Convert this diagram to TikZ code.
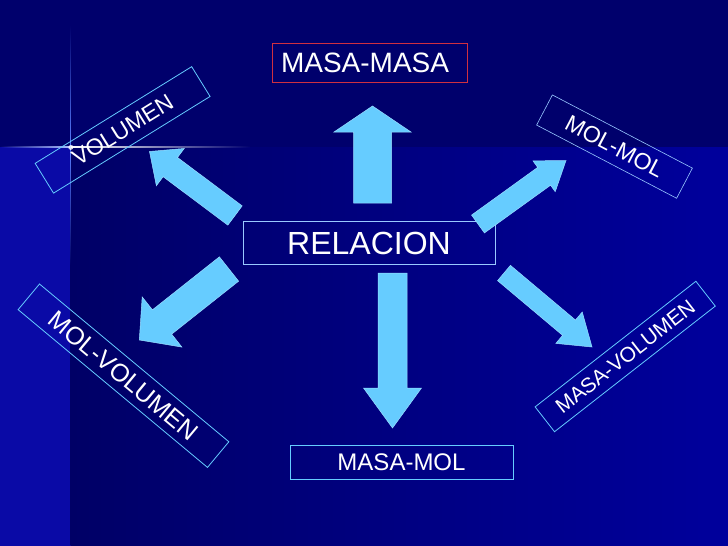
\documentclass[tikz,border=0pt]{standalone}
\usepackage{fontspec}
\setmainfont{Liberation Sans}
\usetikzlibrary{calc,fadings}
\definecolor{bgtop}{HTML}{00006C}
\definecolor{bgleft}{HTML}{0A0AA6}
\definecolor{bgmid}{HTML}{000066}
\definecolor{bgright}{HTML}{00009C}
\definecolor{arrowc}{HTML}{66CCFF}
\definecolor{arrowedge}{HTML}{99DDFF}
\definecolor{boxline}{HTML}{66CCFF}
\definecolor{boxline2}{HTML}{99C8FF}
\definecolor{redline}{HTML}{D03040}
\definecolor{flareblue}{HTML}{5A80FF}
\tikzfading[name=fr, left color=transparent!0, right color=transparent!100]
\tikzfading[name=fl, left color=transparent!100, right color=transparent!0]
\tikzfading[name=fu, top color=transparent!100, bottom color=transparent!0]
\tikzfading[name=fdn, top color=transparent!0, bottom color=transparent!100]
\newcommand{\blockarr}[5]{%
  \coordinate (hb) at ($(#2)!#5!(#1)$);
  \filldraw[blockarrow] ($(#1)!#3!90:(#2)$) -- ($(hb)!#3!90:(#2)$) -- ($(hb)!#4!90:(#2)$) -- (#2)
    -- ($(hb)!#4!-90:(#2)$) -- ($(hb)!#3!-90:(#2)$) -- ($(#1)!#3!-90:(#2)$) -- cycle;
}
\begin{document}
\begin{tikzpicture}[x=1pt,y=-1pt,
  blockarrow/.style={fill=arrowc, draw=arrowedge, line width=0.5pt, line join=miter},
  tagbox/.style={draw=boxline, line width=0.8pt, inner sep=0pt, text=white}]
\useasboundingbox (0,0) rectangle (728,546);
% background
\fill[bgtop] (0,0) rectangle (728,147);
\fill[bgleft] (0,147) rectangle (70.5,546);
\shade[left color=bgmid, right color=bgright] (70.5,147) rectangle (728,546);
% lens flare
\fill[white, path fading=fr] (70,146.4) rectangle (250,147.6);
\fill[flareblue!50!white, path fading=fl] (0,146.4) rectangle (70,147.6);
\fill[flareblue, path fading=fu] (69.9,25) rectangle (71.1,147);
\fill[flareblue, path fading=fdn] (69.9,147) rectangle (71.1,265);
\fill[white, opacity=0.8, path fading=circle with fuzzy edge 20 percent] (70.5,147) circle (3);
% boxes
\node[draw=redline, line width=0.8pt, inner xsep=9pt, inner ysep=0pt, minimum height=39pt,
  text width=177pt, align=left, text=white] (mm) at (369.5,62.5)
  {\fontsize{28}{30}\selectfont MASA-MASA};
\node[tagbox, draw=boxline2, minimum width=252pt, minimum height=43pt] (rel) at (369,243)
  {\fontsize{32}{34}\selectfont RELACION};
\node[tagbox, minimum width=223pt, minimum height=34pt] (mmol) at (401.5,462)
  {\fontsize{24}{26}\selectfont MASA-MOL};
\node[tagbox, minimum width=184pt, minimum height=35pt, rotate=31.7] (vol) at (122.6,129.9)
  {\fontsize{23}{25}\selectfont VOLUMEN};
\node[tagbox, draw=boxline2, line width=0.6pt, minimum width=158pt, minimum height=34pt, rotate=-27.6] (molmol) at (614.5,146.6)
  {\fontsize{23}{25}\selectfont MOL-MOL};
\node[tagbox, minimum width=204pt, minimum height=31.5pt, rotate=38] (mvol) at (625.2,356.5)
  {\fontsize{21}{23}\selectfont MASA-VOLUMEN};
\node[tagbox, minimum width=246.5pt, minimum height=33.4pt, rotate=-39.8] (molvol) at (123.5,375.7)
  {\fontsize{25}{27}\selectfont MOL-VOLUMEN};
% arrows
\coordinate (uT) at (372.5,203); \coordinate (uH) at (372.5,106);
\blockarr{uT}{uH}{19pt}{38.5pt}{26pt}
\coordinate (dT) at (392.5,273); \coordinate (dH) at (392.5,428);
\blockarr{dT}{dH}{14.5pt}{29pt}{40pt}
\coordinate (ulT) at (235,215.5); \coordinate (ulH) at (149.5,151.5);
\blockarr{ulT}{ulH}{12pt}{23.25pt}{26pt}
\coordinate (urT) at (478,224); \coordinate (urH) at (566,160.5);
\blockarr{urT}{urH}{11pt}{19pt}{27pt}
\coordinate (dlT) at (229,269); \coordinate (dlH) at (139.3,340);
\blockarr{dlT}{dlH}{15.5pt}{32pt}{29pt}
\coordinate (drT) at (504,273); \coordinate (drH) at (592,347);
\blockarr{drT}{drH}{10pt}{20.5pt}{30pt}
\end{tikzpicture}
\end{document}
